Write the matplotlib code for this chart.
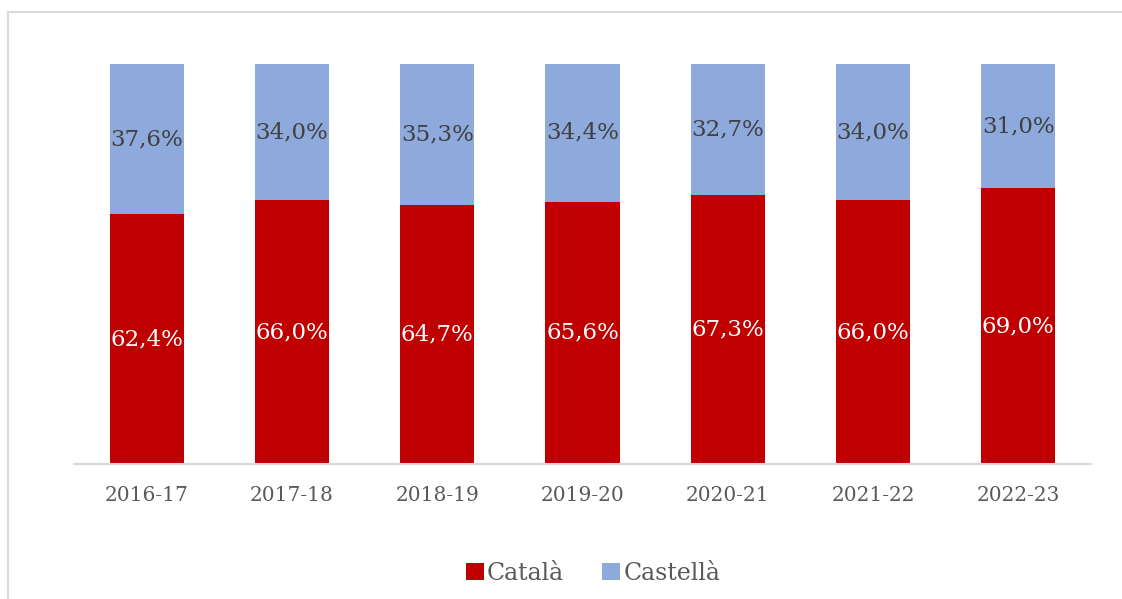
import matplotlib
matplotlib.use("Agg")
import matplotlib.pyplot as plt
from matplotlib.patches import Patch
from matplotlib.lines import Line2D

categories = ["2016-17", "2017-18", "2018-19", "2019-20", "2020-21", "2021-22", "2022-23"]
catala = [62.4, 66.0, 64.7, 65.6, 67.3, 66.0, 69.0]
castella = [37.6, 34.0, 35.3, 34.4, 32.7, 34.0, 31.0]
series_names = ["Català", "Castellà"]

RED = "#C00000"
BLUE = "#8EA9DB"
GRAY = "#595959"
FONT = ["DejaVu Serif"]

plt.rcParams["font.family"] = FONT

fig = plt.figure(figsize=(11.22, 5.99), dpi=100)
ax = fig.add_axes([74/1122, 1-464/599, (1091-74)/1122, (464-64)/599])

x = range(len(categories))
w = 0.51
ax.bar(x, catala, width=w, color=RED, edgecolor="none")
ax.bar(x, castella, width=w, bottom=catala, color=BLUE, edgecolor="none")

for i, (c, s) in enumerate(zip(catala, castella)):
    ax.text(i, c/2, f"{c:.1f}%".replace(".", ","), ha="center", va="center",
            color="white", fontsize=16.5)
    ax.text(i, c + s/2, f"{s:.1f}%".replace(".", ","), ha="center", va="center",
            color="#404040", fontsize=16.5)

ax.set_xlim(-0.5, len(categories) - 0.5)
ax.set_ylim(0, 100)
ax.set_xticks(list(x))
ax.set_xticklabels(categories, fontsize=14.5, color=GRAY)
ax.tick_params(axis="x", length=0, pad=16)
ax.set_yticks([])
for sp in ["top", "right", "left"]:
    ax.spines[sp].set_visible(False)
ax.spines["bottom"].set_color("#D9D9D9")
ax.spines["bottom"].set_linewidth(1.5)

handles = [Patch(facecolor=RED), Patch(facecolor=BLUE)]
fig.legend(handles, series_names, loc="center", bbox_to_anchor=(593/1122, 1-573/599),
           ncol=2, frameon=False, fontsize=17, handlelength=0.75, handleheight=0.75,
           handletextpad=0.15, columnspacing=1.6, labelcolor=GRAY)

# outer chart border
fig.add_artist(Line2D([8/1122, 8/1122], [0, 1-12/599], transform=fig.transFigure,
                      color="#D9D9D9", lw=1.5))
fig.add_artist(Line2D([8/1122, 1], [1-12/599, 1-12/599], transform=fig.transFigure,
                      color="#D9D9D9", lw=1.5))

fig.savefig("out.png", dpi=100)
